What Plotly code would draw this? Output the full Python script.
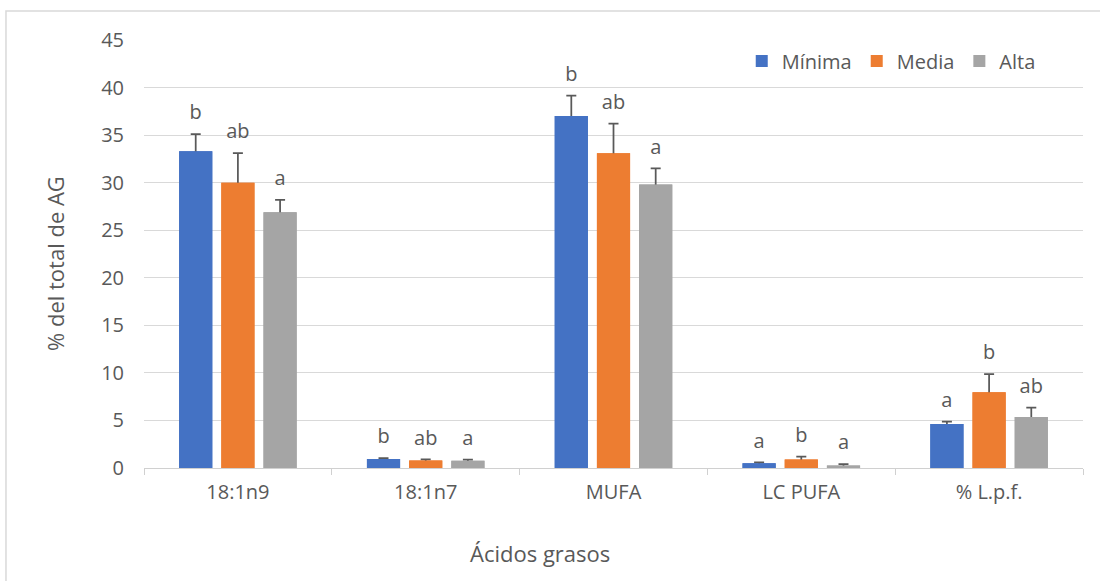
import plotly.graph_objects as go

categories = ["18:1n9", "18:1n7", "MUFA", "LC PUFA", "% L.p.f."]
series_names = ["Mínima", "Media", "Alta"]

minima = [33.3, 0.95, 37.0, 0.50, 4.63]
media = [30.0, 0.80, 33.1, 0.90, 7.96]
alta = [26.9, 0.75, 29.8, 0.25, 5.36]

err_minima = [1.8, 0.10, 2.15, 0.10, 0.24]
err_media = [3.1, 0.10, 3.10, 0.30, 1.90]
err_alta = [1.3, 0.13, 1.70, 0.15, 0.98]

letters_minima = ["b", "b", "b", "a", "a"]
letters_media = ["ab", "ab", "ab", "b", "b"]
letters_alta = ["a", "a", "a", "a", "ab"]

y_ticks = [0, 5, 10, 15, 20, 25, 30, 35, 40, 45]

colors = ["#4472C4", "#ED7D31", "#A5A5A5"]
text_color = "#595959"
FONT = "Open Sans"

values = [minima, media, alta]
errors = [err_minima, err_media, err_alta]
letters = [letters_minima, letters_media, letters_alta]

fig = go.Figure()

# Base bars carrying the error bars + legend.  The lower whisker is pushed
# below the visible axis range (clipped) and hidden by the covering bars,
# so only the plus-side whisker is visible, as in the original chart.
for name, vals, errs, col in zip(series_names, values, errors, colors):
    fig.add_trace(go.Bar(
        x=categories, y=vals, name=name, offsetgroup=name,
        marker=dict(color=col, line=dict(width=0)),
        error_y=dict(type="data", array=errs, arrayminus=[v + 5 for v in vals],
                     symmetric=False, color=text_color, thickness=1.75, width=5),
        xaxis="x", yaxis="y", hoverinfo="skip", cliponaxis=True,
    ))

# Covering bars on an overlay axis
for name, vals, col in zip(series_names, values, colors):
    fig.add_trace(go.Bar(
        x=categories, y=vals, name=name, showlegend=False, offsetgroup=name,
        marker=dict(color=col, line=dict(width=0)),
        xaxis="x2", yaxis="y2", hoverinfo="skip",
    ))

# Significance letters above the error bars
for name, vals, errs, lets in zip(series_names, values, errors, letters):
    fig.add_trace(go.Scatter(
        x=categories, y=[v + e for v, e in zip(vals, errs)],
        mode="markers+text", text=lets, textposition="top center",
        textfont=dict(family=FONT, size=20, color=text_color),
        marker=dict(size=14, color="rgba(0,0,0,0)"),
        offsetgroup=name, orientation="v",
        xaxis="x2", yaxis="y2", showlegend=False, hoverinfo="skip",
    ))

fig.update_layout(
    width=1100, height=581,
    margin=dict(l=144, r=17, t=40, b=113),
    paper_bgcolor="white", plot_bgcolor="white",
    barmode="group", bargap=0.326, bargroupgap=0.214,
    scattermode="group", scattergap=0.326,
    font=dict(family=FONT, size=20, color=text_color),
    xaxis=dict(type="category", categoryorder="array", categoryarray=categories,
               range=[-0.5, 4.5], showline=True, linecolor="#d0d0d0", linewidth=1,
               ticks="outside", tickson="boundaries", ticklen=6, tickcolor="#d0d0d0",
               showgrid=False, zeroline=False, ticklabelstandoff=6,
               tickfont=dict(family=FONT, size=20, color=text_color)),
    yaxis=dict(range=[0, 45], tickvals=y_ticks, showgrid=True, gridcolor="#d9d9d9",
               gridwidth=1, zeroline=False, showline=False, ticks="",
               ticklabelstandoff=19,
               tickfont=dict(family=FONT, size=20, color=text_color)),
    xaxis2=dict(type="category", categoryorder="array", categoryarray=categories,
                range=[-0.5, 4.5], overlaying="x", visible=False),
    yaxis2=dict(range=[0, 45], overlaying="y", visible=False),
    legend=dict(orientation="h", x=0.955, xanchor="right", y=0.951, yanchor="middle",
                font=dict(family=FONT, size=20, color=text_color),
                bgcolor="rgba(0,0,0,0)", itemwidth=30),
    annotations=[
        dict(text="Ácidos grasos", xref="paper", yref="paper", x=0.4217, y=-0.1986,
             xanchor="center", yanchor="middle", showarrow=False,
             font=dict(family=FONT, size=22, color=text_color)),
        dict(text="% del total de AG", xref="paper", yref="paper", x=-0.0948, y=0.479,
             xanchor="center", yanchor="middle", textangle=-90, showarrow=False,
             font=dict(family=FONT, size=22, color=text_color)),
    ],
    shapes=[
        dict(type="rect", xref="paper", yref="paper", x0=-0.147, x1=1.03,
             y0=-0.3, y1=1.0678, line=dict(color="#d9d9d9", width=1.5),
             fillcolor="rgba(0,0,0,0)", layer="below"),
    ],
)

fig.write_html("out.html")
